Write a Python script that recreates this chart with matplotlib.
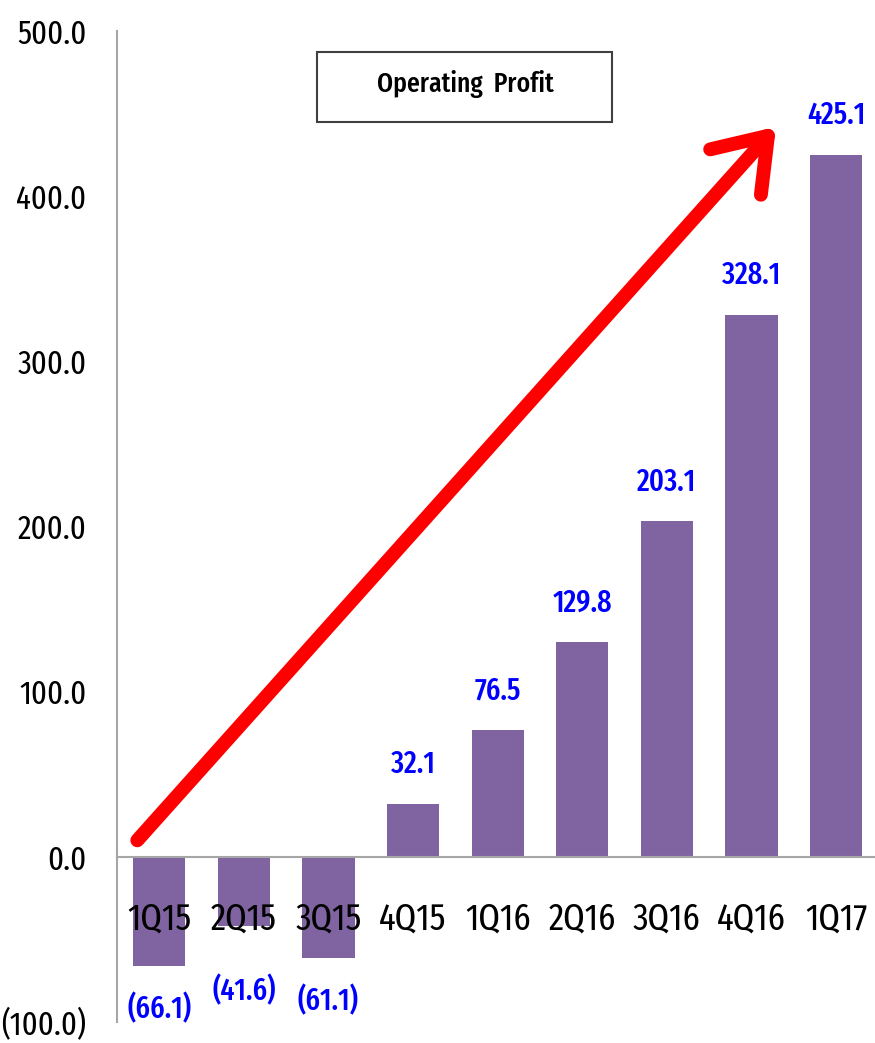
import matplotlib.pyplot as plt
from matplotlib.patches import Rectangle

# данные
quarters = ['1Q15', '2Q15', '3Q15', '4Q15', '1Q16', '2Q16', '3Q16', '4Q16', '1Q17']
profit = [-66.1, -41.6, -61.1, 32.1, 76.5, 129.8, 203.1, 328.1, 425.1]
yticks = [-100, 0, 100, 200, 300, 400, 500]

plt.rcParams['font.family'] = ['Fira Sans Extra Condensed', 'DejaVu Sans']
plt.rcParams['font.weight'] = 'normal'

fig = plt.figure(figsize=(8.75, 10.43), dpi=100)
ax = fig.add_axes([117 / 875, 21 / 1043, 761.4 / 875, 991 / 1043])

x = range(len(quarters))
ax.bar(x, profit, width=0.615, color='#8064A2', zorder=2)

ax.set_xlim(-0.5, 8.5)
ax.set_ylim(-100, 500)

# подписи значений
for i, v in enumerate(profit):
    if v >= 0:
        txt = f'{v:.1f}'
        y = v + 24
    else:
        txt = f'({-v:.1f})'
        y = min(v, -55) - 26
    ax.text(i, y, txt, color='#0000FF', fontsize=22, fontweight=500,
            ha='center', va='center', zorder=4)

# оси
ax.spines['top'].set_visible(False)
ax.spines['right'].set_visible(False)
ax.spines['left'].set_color('#A6A6A6')
ax.spines['left'].set_linewidth(1.5)
ax.spines['bottom'].set_position(('data', 0))
ax.spines['bottom'].set_color('#A6A6A6')
ax.spines['bottom'].set_linewidth(1.5)
ax.spines['bottom'].set_zorder(3)

ax.set_xticks(list(x))
ax.set_xticklabels(quarters, fontsize=27)
ax.tick_params(axis='x', length=0, pad=32)
ax.set_yticks(yticks)
ax.set_yticklabels([f'{t:.1f}' if t >= 0 else f'({-t:.1f})' for t in yticks], fontsize=24)
ax.tick_params(axis='y', length=0, pad=22)
ax.xaxis.set_zorder(5)

# красная стрелка роста
ax.annotate('', xy=(7.29, 442), xytext=(-0.26, 10),
            arrowprops=dict(arrowstyle='->,head_length=0.5,head_width=0.35', color='#FF0000',
                            lw=10, mutation_scale=70, capstyle='round', joinstyle='round',
                            shrinkA=0, shrinkB=0),
            zorder=3)

# заголовок в рамке
fig.patches.append(Rectangle((317 / 875, 1 - 122 / 1043), 295 / 875, 70 / 1043,
                             transform=fig.transFigure, facecolor='white',
                             edgecolor='#404040', linewidth=1.5))
fig.text(465 / 875, 1 - 84 / 1043, 'Operating  Profit', fontsize=20, fontweight=500,
         ha='center', va='center')

fig.savefig('out.png', dpi=100)
